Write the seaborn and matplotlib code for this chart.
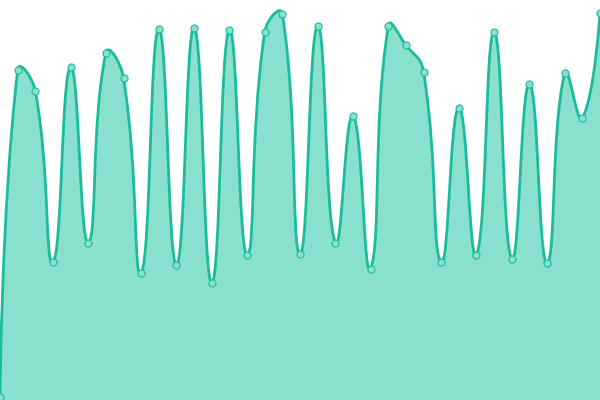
import numpy as np
import matplotlib
matplotlib.use("Agg")
import matplotlib.pyplot as plt
from matplotlib.path import Path
from matplotlib.patches import PathPatch
import seaborn as sns
import pandas as pd

# values (height above the baseline)
values = [3, 330, 309, 138, 333, 157, 347, 322, 127, 371, 135, 372, 117, 370, 145,
          368, 386, 146, 374, 157, 284, 131, 374, 355, 328, 138, 292, 145, 368, 141,
          316, 137, 327, 282, 387]
index = list(range(len(values)))

line_color = "#1abc9c"
fill_color = "#8ae0cf"

sns.set_style("white")
fig = plt.figure(figsize=(6, 4), dpi=100)
ax = fig.add_axes([0, 0, 1, 1])
ax.set_xlim(0, len(values) - 1)
ax.set_ylim(0, 400)
ax.axis("off")

# smooth curve as cubic beziers (control points from neighbours)
x = np.array(index, dtype=float)
y = np.array(values, dtype=float)
sx = 600 / (len(values) - 1)  # pixel scale for distances
smooth = 0.5
cps = []
for i in range(len(x)):
    if i == 0 or i == len(x) - 1:
        cps.append(((x[i], y[i]), (x[i], y[i])))
        continue
    vx = (x[i + 1] - x[i - 1]) * smooth
    vy = (y[i + 1] - y[i - 1]) * smooth
    d0 = np.hypot((x[i] - x[i - 1]) * sx, y[i] - y[i - 1])
    d1 = np.hypot((x[i + 1] - x[i]) * sx, y[i + 1] - y[i])
    s = d0 + d1
    d0, d1 = d0 / s, d1 / s
    cps.append(((x[i] - vx * d0, y[i] - vy * d0), (x[i] + vx * d1, y[i] + vy * d1)))

verts = [(x[0], y[0])]
codes = [Path.MOVETO]
for i in range(len(x) - 1):
    verts += [cps[i][1], cps[i + 1][0], (x[i + 1], y[i + 1])]
    codes += [Path.CURVE4] * 3

fill_verts = verts + [(x[-1], 0), (x[0], 0), (x[0], y[0])]
fill_codes = codes + [Path.LINETO, Path.LINETO, Path.CLOSEPOLY]
ax.add_patch(PathPatch(Path(fill_verts, fill_codes), facecolor=fill_color,
                       edgecolor="none", zorder=1))
ax.add_patch(PathPatch(Path(verts, codes), facecolor="none", edgecolor=line_color,
                       linewidth=2, zorder=2))

df = pd.DataFrame({"idx": index, "value": values})
sns.scatterplot(data=df, x="idx", y="value", ax=ax, s=26, color=fill_color,
                edgecolor=line_color, linewidth=0.8, zorder=3, legend=False)
ax.axis("off")

fig.savefig("out.png", dpi=100)
